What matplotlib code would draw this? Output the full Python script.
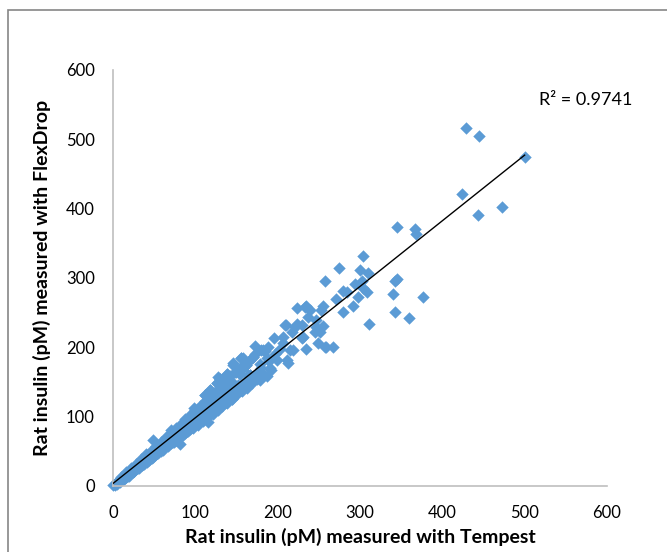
import matplotlib.pyplot as plt
import numpy as np
from matplotlib.patches import Rectangle

# dense part of the cloud (low concentrations)
tempest_low = [0, 2, 4, 5, 6, 8, 9, 10, 11, 12, 13, 14, 15, 16, 17, 18, 19, 20, 21, 22, 23,
               24, 25, 26, 27, 28, 29, 30, 31, 32, 33, 34, 35, 36, 37, 38, 39, 40, 41, 42, 43,
               44, 45, 46, 47, 48, 49, 50, 51, 52, 53, 54, 55, 56, 57, 58, 59, 60, 61, 62, 63,
               64, 65, 66, 67, 68, 69, 70, 71, 72, 73, 74, 75, 76, 77, 78, 79, 80, 81, 82, 83,
               84, 85, 86, 87, 88, 89, 90, 91, 92, 93, 94, 95, 96, 97, 98, 99, 100, 101, 102, 103,
               104, 105, 106, 107, 108, 109, 110, 111, 112, 113, 114, 115, 116, 117, 118, 119, 120, 121, 122, 123,
               124, 125, 126, 127, 128, 129, 130, 131, 132, 133, 134, 135, 136, 137, 138, 139, 140, 141, 142, 143,
               144, 145, 146, 147, 148, 150, 152, 154, 155, 156, 158, 160, 162, 162, 164, 166, 168, 170, 176, 180]
flexdrop_low = [1, 1, 5, 3, 7, 6, 10, 8, 12, 10, 14, 11, 16, 13, 18, 15, 19, 17, 22, 19, 24,
                20, 26, 22, 28, 24, 30, 26, 33, 27, 31, 36, 30, 34, 38, 32, 37, 42, 35, 40, 45,
                38, 43, 47, 40, 66, 45, 50, 44, 52, 47, 56, 49, 54, 59, 50, 57, 62, 53, 60, 65,
                57, 63, 68, 59, 66, 71, 62, 81, 69, 74, 64, 72, 78, 67, 75, 80, 70, 60, 78, 84,
                74, 82, 88, 76, 85, 91, 80, 88, 95, 82, 90, 98, 85, 93, 103, 112, 88, 97, 106, 92,
                100, 110, 95, 103, 115, 97, 106, 118, 131, 100, 108, 93, 112, 122, 138, 105, 116, 126, 108, 114,
                120, 130, 148, 157, 112, 124, 155, 118, 128, 121, 138, 148, 120, 132, 162, 125, 140, 130, 148, 135,
                126, 150, 174, 140, 132, 165, 145, 162, 138, 184, 170, 150, 174, 146, 160, 160, 152, 186, 165, 170]

# more points filling the band
tempest_mid = [7, 10, 13, 16, 19, 22, 25, 28, 31, 34, 37, 40, 43, 46, 49, 52, 55, 58, 61, 64,
               67, 70, 73, 76, 79, 82, 85, 88, 91, 94, 97, 100, 103, 106, 109, 112, 115, 118, 121, 124,
               127, 130, 133, 136, 139, 142, 145, 148, 151, 154, 157, 160, 163, 166, 169, 172, 175, 180, 184, 188]
flexdrop_mid = [9, 13, 10, 20, 15, 26, 21, 32, 26, 39, 32, 46, 37, 51, 42, 57, 47, 64, 52, 70,
                58, 76, 63, 83, 68, 90, 73, 96, 79, 103, 84, 110, 88, 116, 94, 123, 100, 128, 104, 135,
                110, 142, 115, 150, 120, 158, 126, 164, 132, 170, 137, 176, 142, 182, 148, 190, 155, 196, 160, 200]

# spread part of the cloud (higher concentrations)
tempest_high = [429, 445, 500, 424, 443, 473, 367, 368, 345, 345, 342, 377, 359, 342, 340,
                304, 274, 300, 310, 258, 294, 302, 279, 284, 304, 308, 298, 271, 255, 253,
                291, 279, 311, 233, 239, 237, 229, 247, 255, 251, 231, 249, 259, 267, 235,
                223, 234, 209, 223, 247, 245, 195, 207, 217, 229, 203, 215, 257, 172, 182,
                197, 211, 213, 146, 158, 170, 187, 199, 210, 221, 207, 219, 185, 191, 156,
                162, 138, 130, 154, 166, 178, 187, 118, 126, 142, 162, 112, 178, 190, 192]
flexdrop_high = [516, 505, 474, 421, 391, 403, 370, 363, 374, 298, 296, 272, 243, 251, 277,
                 332, 314, 311, 307, 295, 292, 295, 281, 280, 285, 280, 273, 269, 259, 254,
                 259, 251, 233, 258, 254, 244, 232, 230, 231, 222, 215, 206, 201, 200, 198,
                 257, 260, 232, 234, 239, 222, 213, 215, 222, 213, 198, 196, 201, 202, 196,
                 191, 181, 177, 177, 184, 186, 184, 182, 232, 230, 206, 196, 194, 170, 184,
                 174, 162, 155, 162, 160, 153, 158, 138, 148, 148, 146, 131, 176, 180, 168]

r2_label = 'R² = 0.9741'

x = np.array(tempest_low + tempest_mid + tempest_high, dtype=float)
y = np.array(flexdrop_low + flexdrop_mid + flexdrop_high, dtype=float)

plt.rcParams['font.family'] = ['Lato', 'DejaVu Sans']

fig = plt.figure(figsize=(6.67, 5.52), dpi=100)
ax = fig.add_axes([0.1694, 0.1196, 0.7406, 0.7536])

# outer chart border
fig.patches.append(Rectangle((0.012, -0.05), 1.1, 1.032, transform=fig.transFigure,
                             fill=False, edgecolor='#868686', linewidth=1.2))

ax.scatter(x, y, marker='D', s=40, color='#5B9BD5', linewidths=0, zorder=2, clip_on=False)

slope, intercept = np.polyfit(x, y, 1)
xs = np.array([x.min(), x.max()])
ax.plot(xs, slope * xs + intercept, color='black', linewidth=1, zorder=3)

ax.text(518, 556, r2_label, fontsize=13, ha='left', va='center', clip_on=False)

ax.set_xlim(0, 600)
ax.set_ylim(0, 600)
ax.set_xticks(range(0, 601, 100))
ax.set_yticks(range(0, 601, 100))
ax.tick_params(length=0, labelsize=12, colors='black')
ax.tick_params(axis='x', pad=14)
ax.tick_params(axis='y', pad=13)

for side in ['top', 'right']:
    ax.spines[side].set_visible(False)
for side in ['left', 'bottom']:
    ax.spines[side].set_color('#BFBFBF')
    ax.spines[side].set_linewidth(1.2)

ax.set_xlabel('Rat insulin (pM) measured with Tempest', fontsize=14, fontweight='bold', labelpad=5)
ax.set_ylabel('Rat insulin (pM) measured with FlexDrop', fontsize=14, fontweight='bold', labelpad=11)

fig.savefig('out.png', dpi=100)
